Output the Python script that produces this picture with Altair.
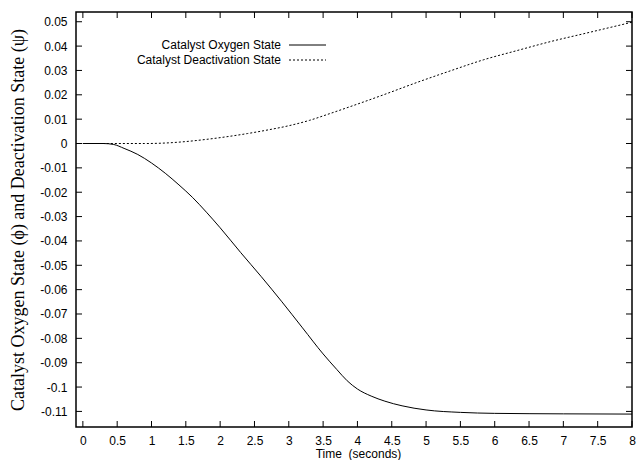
import altair as alt
import pandas as pd

# Catalyst oxygen state (phi) over time
oxy_time = [0.0, 0.3, 0.45, 0.6, 0.8, 1.0, 1.2, 1.4, 1.6, 1.8, 2.0, 2.3, 2.6,
            2.9, 3.2, 3.5, 3.7, 3.85, 4.0, 4.2, 4.4, 4.65, 5.0, 5.5, 6.0, 7.0, 8.0]
oxy_value = [0.0, 0.0, -0.0004, -0.0020, -0.0045, -0.0080, -0.0122, -0.0170,
             -0.0222, -0.0282, -0.0346, -0.0448, -0.0547, -0.0650, -0.0757,
             -0.0864, -0.0928, -0.0974, -0.1008, -0.1037, -0.1058, -0.1077,
             -0.1094, -0.1104, -0.1108, -0.1110, -0.1111]

# Catalyst deactivation state (psi) over time
deact_time = [0.0, 0.9, 1.2, 1.5, 1.8, 2.1, 2.4, 2.7, 3.0, 3.3, 3.6, 3.9, 4.38,
              4.87, 5.36, 5.84, 6.33, 6.82, 7.3, 8.0]
deact_value = [0.0, 0.0, 0.0002, 0.0008, 0.0017, 0.0028, 0.0041, 0.0056, 0.0073,
               0.0095, 0.0123, 0.0152, 0.0200, 0.0251, 0.0299, 0.0344, 0.0382,
               0.0419, 0.0451, 0.0498]

x_ticks = [0, 0.5, 1, 1.5, 2, 2.5, 3, 3.5, 4, 4.5, 5, 5.5, 6, 6.5, 7, 7.5, 8]
y_ticks = [0.05, 0.04, 0.03, 0.02, 0.01, 0, -0.01, -0.02, -0.03, -0.04, -0.05,
           -0.06, -0.07, -0.08, -0.09, -0.1, -0.11]

series_names = ["Catalyst Oxygen State", "Catalyst Deactivation State"]

W, H = 556, 415
TICK = 6
SANS = "Liberation Sans"
SERIF = "Liberation Serif, DejaVu Serif, serif"

oxy_df = pd.DataFrame({"t": oxy_time, "v": oxy_value})
deact_df = pd.DataFrame({"t": deact_time, "v": deact_value})
xt_df = pd.DataFrame({"t": x_ticks})
yt_df = pd.DataFrame({"v": y_ticks})

x_scale = alt.Scale(domain=[-0.1, 8.0], nice=False, zero=False)
y_scale = alt.Scale(domain=[-0.1164, 0.054], nice=False, zero=False)

x_axis = alt.Axis(
    values=x_ticks, labelExpr="'' + datum.value", tickSize=0, domain=False,
    grid=False, labelFont=SANS, labelFontSize=12, labelColor="black",
    labelPadding=8, labelOverlap=False, labelFlush=False,
    title="Time\u00a0 (seconds)", titleFont=SANS, titleFontSize=12,
    titleFontWeight="normal", titleColor="black",
    titleX=282, titleY=26, titleBaseline="middle",
)
y_axis = alt.Axis(
    values=y_ticks, labelExpr="'' + datum.value", tickSize=0, domain=False,
    grid=False, labelFont=SANS, labelFontSize=12, labelColor="black",
    labelPadding=9, labelBaseline="middle", labelOverlap=False,
    labelFlush=False,
    title="Catalyst Oxygen State (\u03d5) and Deactivation State (\u03c8)",
    titleFont=SERIF, titleFontSize=18, titleFontWeight="normal",
    titleColor="black", titleX=-58, titleY=H / 2, titleAngle=-90,
    titleAlign="center", titleBaseline="middle",
)


def xenc():
    return alt.X("t:Q", scale=x_scale, axis=x_axis)


def yenc():
    return alt.Y("v:Q", scale=y_scale, axis=y_axis)


oxy_line = alt.Chart(oxy_df).mark_line(
    color="black", strokeWidth=1, interpolate="monotone"
).encode(x=xenc(), y=yenc())

deact_line = alt.Chart(deact_df).mark_line(
    color="black", strokeWidth=1, strokeDash=[2, 2], interpolate="monotone"
).encode(x=xenc(), y=yenc())

# inward tick marks on all four sides of the frame
rule_style = dict(color="black", strokeWidth=1)
bottom_ticks = alt.Chart(xt_df).mark_rule(**rule_style).encode(
    x=xenc(), y=alt.value(H), y2=alt.value(H - TICK))
top_ticks = alt.Chart(xt_df).mark_rule(**rule_style).encode(
    x=xenc(), y=alt.value(0), y2=alt.value(TICK))
left_ticks = alt.Chart(yt_df).mark_rule(**rule_style).encode(
    y=yenc(), x=alt.value(0), x2=alt.value(TICK))
right_ticks = alt.Chart(yt_df).mark_rule(**rule_style).encode(
    y=yenc(), x=alt.value(W - TICK), x2=alt.value(W))

# key: labels right-aligned with line samples to their right
key_rows = [(series_names[0], 33, None), (series_names[1], 48, [2, 2])]
key_layers = []
for name, ky, dash in key_rows:
    key_layers.append(
        alt.Chart(pd.DataFrame({"label": [name]})).mark_text(
            align="right", baseline="middle", font=SANS, fontSize=12,
            color="black",
        ).encode(text="label:N", x=alt.value(205), y=alt.value(ky))
    )
    rule_kw = dict(rule_style)
    if dash:
        rule_kw["strokeDash"] = dash
    key_layers.append(
        alt.Chart(pd.DataFrame({"label": [name]})).mark_rule(**rule_kw).encode(
            x=alt.value(213), x2=alt.value(250), y=alt.value(ky))
    )

chart = alt.layer(
    oxy_line, deact_line, bottom_ticks, top_ticks, left_ticks, right_ticks,
    *key_layers,
).properties(
    width=W, height=H,
    autosize=alt.AutoSizeParams(type="none"),
    padding={"left": 76, "top": 12, "right": 5, "bottom": 33},
    background="white",
).configure_axis(
    labelOverlap=False,
).configure_view(
    stroke="black", strokeWidth=1.5,
)

chart.save("out.html", embed_options={"renderer": "svg", "actions": False})
